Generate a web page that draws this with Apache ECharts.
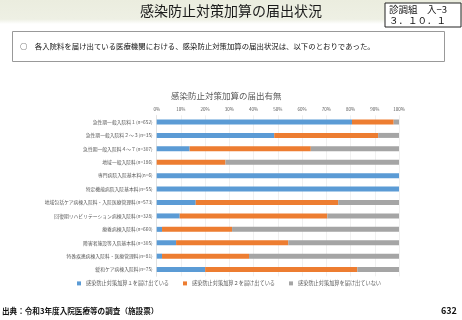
<!DOCTYPE html>
<html><head><meta charset="utf-8">
<script src="https://cdn.jsdelivr.net/npm/echarts@6/dist/echarts.min.js"></script>
<style>html,body{margin:0;padding:0;background:#fff}#c{width:462px;height:320px}</style>
</head><body><div id="c"></div>
<script>
const categories = [
  '急性期一般入院料１(n=652)',
  '急性期一般入院料２～３(n=35)',
  '急性期一般入院料４～７(n=307)',
  '地域一般入院料(n=186)',
  '専門病院入院基本料(n=6)',
  '特定機能病院入院基本料(n=55)',
  '地域包括ケア病棟入院料・入院医療管理料(n=573)',
  '回復期リハビリテーション病棟入院料(n=328)',
  '療養病棟入院料(n=660)',
  '障害者施設等入院基本料(n=305)',
  '特殊疾患病棟入院料・医療管理料(n=81)',
  '緩和ケア病棟入院料(n=75)'
];
const seriesNames = ['感染防止対策加算１を届け出ている','感染防止対策加算２を届け出ている','感染防止対策加算を届け出ていない'];
const kasan1 = [80.6, 48.5, 13.6, 0, 100, 100, 16.1, 9.5, 2.2, 8.0, 2.2, 20.0];
const kasan2 = [17.2, 42.9, 50.0, 28.4, 0, 0, 58.8, 60.9, 28.9, 46.3, 35.9, 62.8];
const nashi  = [2.2, 8.6, 36.4, 71.6, 0, 0, 25.1, 29.6, 68.9, 45.7, 61.9, 17.2];
const xTicks = [0,10,20,30,40,50,60,70,80,90,100];

const F = '"Noto Sans CJK JP","Noto Sans",sans-serif';
const colors = ['#5B9BD5','#ED7D31','#A5A5A5'];
const chart = echarts.init(document.getElementById('c'));
const data = [kasan1, kasan2, nashi];
chart.setOption({
  animation:false,
  textStyle:{fontFamily:F},
  title:{text:'感染防止対策加算の届出有無', left:166, top:87, textStyle:{fontSize:8.5, fontWeight:'normal', color:'#595959', fontFamily:F}},
  grid:{left:156.7, right:63, top:115.3, height:161},
  legend:{bottom:29, left:72, itemWidth:4, itemHeight:4, itemGap:14, icon:'rect',
    textStyle:{fontSize:5.2, color:'#595959', fontFamily:F}, data:seriesNames},
  xAxis:{type:'value', position:'top', min:xTicks[0], max:xTicks[xTicks.length-1], interval:10,
    axisLabel:{formatter:'{value}%', fontSize:4.5, color:'#595959', margin:4},
    axisLine:{show:false}, axisTick:{show:false},
    splitLine:{lineStyle:{color:'#E5E5E5', width:0.6}}},
  yAxis:{type:'category', inverse:true, data:categories,
    axisLabel:{fontSize:4.8, color:'#595959', margin:4},
    axisLine:{lineStyle:{color:'#D9D9D9', width:0.6}}, axisTick:{show:false}},
  series: seriesNames.map((n,i)=>({name:n, type:'bar', stack:'s', data:data[i], barWidth:5,
    itemStyle:{color:colors[i]}})),
  graphic:[
    {type:'rect', z:-1, shape:{x:0,y:0,width:462,height:24},
      style:{fill:new echarts.graphic.LinearGradient(0,0,0,1,[{offset:0,color:'#EBEDDF'},{offset:0.8,color:'#EEF0E4'},{offset:1,color:'#FFFFFF'}])}},
    {type:'text', left:'center', top:4, style:{text:'感染防止対策加算の届出状況', font:'14px '+F, fill:'#1a1a1a'}},
    {type:'rect', shape:{x:385,y:3,width:76,height:24}, style:{fill:'#fff', stroke:'#222', lineWidth:1}},
    {type:'text', left:389, top:4.5, style:{text:'診調組　入−3', font:'9.5px '+F, fill:'#111'}},
    {type:'text', left:389, top:15.5, style:{text:'３．１０．１', font:'9.5px '+F, fill:'#111'}},
    {type:'rect', shape:{x:12.5,y:31.5,width:432,height:30}, style:{fill:'none', stroke:'#999', lineWidth:1}},
    {type:'text', left:20, top:42, style:{text:'○　各入院料を届け出ている医療機関における、感染防止対策加算の届出状況は、以下のとおりであった。', font:'7.4px '+F, fill:'#111'}},
    {type:'text', left:2, top:307, style:{text:'出典：令和3年度入院医療等の調査（施設票）', font:'bold 7.6px '+F, fill:'#111'}},
    {type:'text', left:441, top:306, style:{text:'632', font:'bold 9px '+F, fill:'#111'}}
  ]
});
</script></body></html>
